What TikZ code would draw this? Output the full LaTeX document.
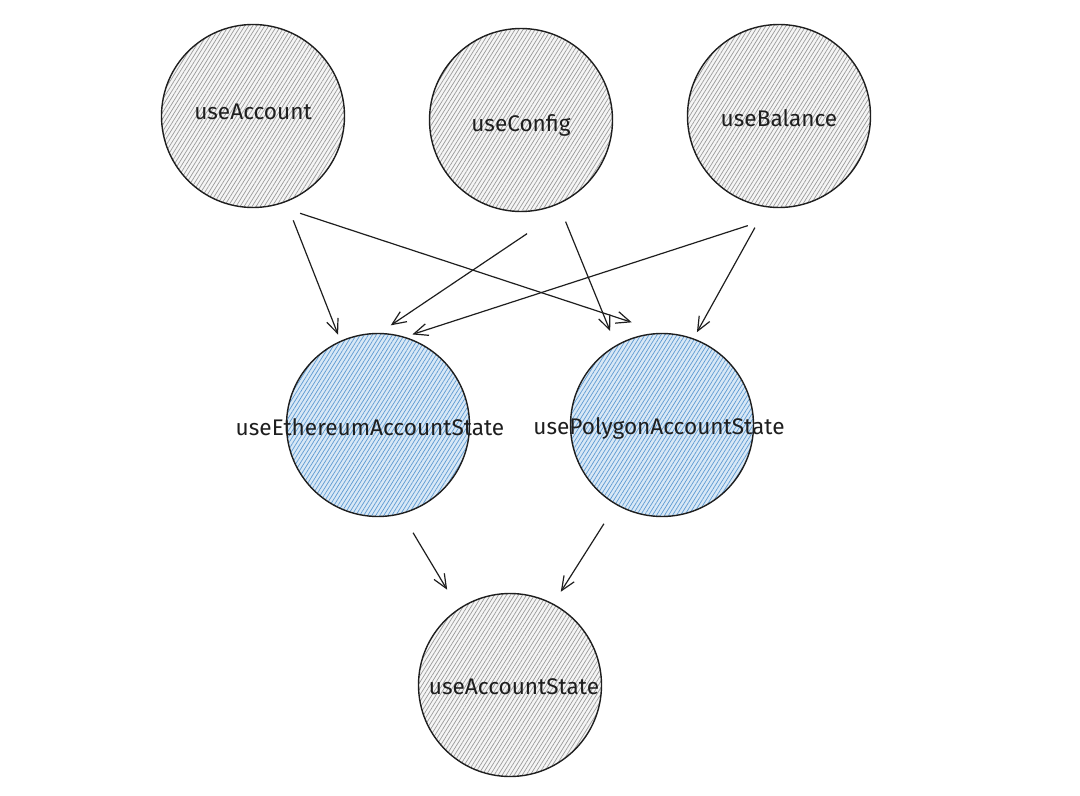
\documentclass[tikz,border=0pt]{standalone}
\usepackage{fontspec}
\setmainfont{Fira Sans}
\usepackage{tikz}
\usetikzlibrary{arrows.meta,patterns.meta}

\definecolor{ink}{HTML}{1E1E1E}
\definecolor{hatchgray}{HTML}{9A9A9A}
\definecolor{hatchblue}{HTML}{5E9AD2}
\definecolor{paleblue}{HTML}{D8E8F6}

\begin{document}
\begin{tikzpicture}[
    x=0.5pt, y=-0.5pt,
    hookbase/.style={circle, draw=ink, line width=0.7pt, minimum size=91.5pt, inner sep=0pt,
        pattern={Lines[angle=58,distance=1.7pt,line width=0.35pt]}},
    hook/.style={hookbase, preaction={fill=gray!8}, pattern color=hatchgray},
    chainhook/.style={hookbase, preaction={fill=paleblue}, pattern color=hatchblue},
    every label/.style={font=\fontsize{11.3}{13}\selectfont, text=ink, inner sep=0pt},
    dep/.style={-{Straight Barb[length=7pt,width=6pt]}, draw=ink, line width=0.6pt}
]
\useasboundingbox (0,0) rectangle (1080,796);

\node[hook, label={[yshift=2pt]center:useAccount}] (acc) at (253,116) {};
\node[hook, label={[yshift=-2.5pt]center:useConfig}] (cfg) at (521,120) {};
\node[hook, label={[yshift=-1pt]center:useBalance}] (bal) at (779,116) {};
\node[chainhook, label={[xshift=-4pt,yshift=-1pt]center:useEthereumAccountState}] (eth) at (378,425) {};
\node[chainhook, label={[xshift=-1.5pt,yshift=-1.5pt]center:usePolygonAccountState}] (pol) at (662,425) {};
\node[hook, label={[xshift=2pt,yshift=-1pt]center:useAccountState}] (st) at (510,685) {};

\draw[dep, shorten <=10pt, shorten >=3.3pt] (acc.-69) -- (eth.114);
\draw[dep, shorten <=13.1pt, shorten >=16.8pt] (acc.-76) -- (pol.89);
\draw[dep, shorten >=6.7pt] ([xshift=0.6pt,yshift=-10.8pt]cfg.-87) -- (eth.89);
\draw[dep, shorten <=9.4pt, shorten >=7.6pt] (cfg.-66) -- (pol.120);
\draw[dep, shorten >=3.9pt] ([xshift=-2.9pt,yshift=-10.5pt]bal.-106) -- (eth.73);
\draw[dep, shorten <=11.6pt, shorten >=3.5pt] (bal.-98) -- (pol.70);
\draw[dep, shorten <=10.9pt, shorten >=11pt] (eth.-75) -- (st.124);
\draw[dep, shorten <=11.2pt, shorten >=7pt] (pol.-120) -- (st.62);
\end{tikzpicture}
\end{document}
